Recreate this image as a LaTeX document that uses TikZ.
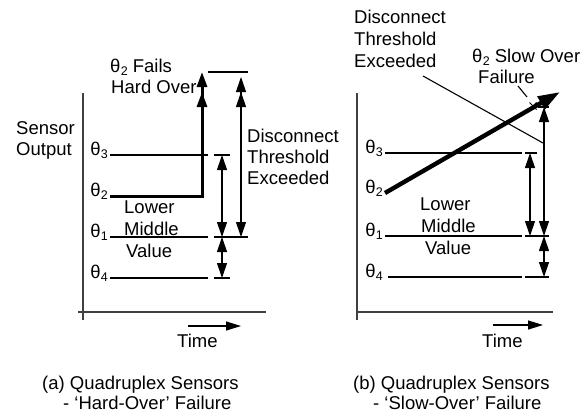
\documentclass[tikz,border=0pt]{standalone}
\usepackage{fontspec}
\setmainfont{Liberation Sans}
\usetikzlibrary{arrows.meta}
% theta with a lowered index
\newcommand\thlab[1]{θ\kern0.3pt\raisebox{-3.5pt}{\fontsize{12.5}{12.5}\selectfont #1}}
\tikzset{
  txt/.style={inner sep=0pt, font=\fontsize{18.5}{22}\selectfont},
  lvl/.style={line width=2.8pt, line cap=butt},
  axisln/.style={line width=1.3pt, draw=black!75},
  fine/.style={line width=1.1pt},
  headtip/.tip={Triangle[length=15pt,width=10pt]},
  dimarrow/.style={fine, headtip-headtip},
  timearrow/.style={line width=1.2pt, -{Triangle[length=15pt,width=9pt]}},
}
\begin{document}
\begin{tikzpicture}[x=1pt,y=-1pt]
\useasboundingbox (0,0) rectangle (585,415);

% ===================== (a) hard-over failure =====================
% axes
\coordinate (ay0) at (83,93);  \coordinate (ay1) at (83,320);
\coordinate (ax0) at (78,312); \coordinate (ax1) at (266,312);
\draw[axisln] (ay0) -- (ay1);
\draw[axisln] (ax0) -- (ax1);

% sensor levels
\coordinate (a3s) at (110,155); \coordinate (a3e) at (208,155);
\coordinate (a1s) at (110,237); \coordinate (a1e) at (208,237);
\coordinate (a4s) at (110,278); \coordinate (a4e) at (208,278);
\coordinate (a2s) at (110,196); \coordinate (a2c) at (202,196);
\coordinate (a2t) at (202,72);
\draw[lvl] (a3s) -- (a3e);
\draw[lvl] (a1s) -- (a1e);
\draw[lvl] (a4s) -- (a4e);
\draw[line width=3pt, line join=miter,
  -{Triangle[length=15pt,width=10pt,sep=5pt]Triangle[length=15pt,width=10pt]}]
  (a2s) -- (a2c) -- (a2t);

% extension ticks
\coordinate (at3a) at (214,155); \coordinate (at3b) at (230,155);
\coordinate (at1a) at (214,237); \coordinate (at1b) at (248,237);
\coordinate (at4a) at (214,278); \coordinate (at4b) at (230,278);
\coordinate (atTa) at (208,72);  \coordinate (atTb) at (248,72);
\draw[fine] (at3a) -- (at3b);
\draw[fine] (at1a) -- (at1b);
\draw[fine] (at4a) -- (at4b);
\draw[fine] (atTa) -- (atTb);

% dimension arrows
\coordinate (ad3) at (222,155); \coordinate (ad1) at (222,237); \coordinate (ad4) at (222,278);
\coordinate (aDT) at (241,72);  \coordinate (aDB) at (241,237);
\draw[dimarrow] (ad3) -- (ad1);
\draw[dimarrow] (ad1) -- (ad4);
\draw[fine, {Triangle[length=15pt,width=10pt,sep=5pt]Triangle[length=15pt,width=10pt]}-headtip]
  (aDT) -- (aDB);

% level labels
\node[txt, anchor=base east] (aL3) at (108,155) {\thlab{3}};
\node[txt, anchor=base east] (aL2) at (108,196) {\thlab{2}};
\node[txt, anchor=base east] (aL1) at (108,237) {\thlab{1}};
\node[txt, anchor=base east] (aL4) at (108,278) {\thlab{4}};

% annotations
\node[txt, anchor=base west] (aF1) at (110,72) {\thlab{2} Fails};
\node[txt, anchor=base west] (aF2) at (111,93) {Hard Over};
\node[txt, anchor=base west] (aS1) at (16,134) {Sensor};
\node[txt, anchor=base west] (aS2) at (16,155) {Output};
\node[txt, anchor=base west] (aD1) at (247,142) {Disconnect};
\node[txt, anchor=base west] (aD2) at (247,163) {Threshold};
\node[txt, anchor=base west] (aD3) at (247,184) {Exceeded};
\node[txt, anchor=base west] (aM1) at (124,213) {Lower};
\node[txt, anchor=base west] (aM2) at (124,235) {Middle};
\node[txt, anchor=base west] (aM3) at (126,257) {Value};

% time axis label
\coordinate (aTa) at (188,326); \coordinate (aTb) at (241,326);
\draw[timearrow] (aTa) -- (aTb);
\node[txt, anchor=base west] (aTime) at (177,347) {Time};

% caption
\node[txt, anchor=base west] (aC1) at (42,389) {(a) Quadruplex Sensors};
\node[txt, anchor=base west] (aC2) at (63,409) {- ‘Hard-Over’ Failure};

% ===================== (b) slow-over failure =====================
\coordinate (by0) at (357,93);  \coordinate (by1) at (357,320);
\coordinate (bx0) at (357,312); \coordinate (bx1) at (553,312);
\draw[axisln] (by0) -- (by1);
\draw[axisln] (bx0) -- (bx1);

\coordinate (b3s) at (385,153); \coordinate (b3e) at (522,153);
\coordinate (b1s) at (385,236); \coordinate (b1e) at (522,236);
\coordinate (b4s) at (388,277); \coordinate (b4e) at (522,277);
\draw[lvl] (b3s) -- (b3e);
\draw[lvl] (b1s) -- (b1e);
\draw[lvl] (b4s) -- (b4e);

% ticks
\coordinate (bt3a) at (525,153); \coordinate (bt3b) at (537,153);
\coordinate (bt1a) at (525,236); \coordinate (bt1b) at (549,236);
\coordinate (bt4a) at (525,277); \coordinate (bt4b) at (549,277);
\coordinate (btTa) at (538,107); \coordinate (btTb) at (549,107);
\draw[fine] (bt3a) -- (bt3b);
\draw[fine] (bt1a) -- (bt1b);
\draw[fine] (bt4a) -- (bt4b);
\draw[fine] (btTa) -- (btTb);

% dimension arrows
\coordinate (bd3) at (530,153); \coordinate (bd1) at (530,236);
\coordinate (bDT) at (544,107); \coordinate (bDM) at (544,236); \coordinate (bDB) at (544,277);
\draw[dimarrow] (bd3) -- (bd1);
\draw[dimarrow] (bDT) -- (bDM);
\draw[dimarrow] (bDM) -- (bDB);

% leader from the threshold label
\coordinate (bLa) at (423,76); \coordinate (bLb) at (543,143);
\draw[fine] (bLa) -- (bLb);

% slowly drifting sensor
\coordinate (b2s) at (385,193); \coordinate (b2t) at (560,92);
\draw[line width=4.4pt, -{Triangle[length=22pt,width=14pt]}] (b2s) -- (b2t);

% crossing point mark and its leader
\coordinate (bX) at (533,106);
\draw[line width=1pt] ([shift={(-3.5,-3.5)}]bX) -- ([shift={(3.5,3.5)}]bX);
\draw[line width=1pt] ([shift={(-3.5,3.5)}]bX) -- ([shift={(3.5,-3.5)}]bX);
\coordinate (bFa) at (518,86); \coordinate (bFb) at (527,97);
\draw[fine] (bFa) -- (bFb);

% level labels
\node[txt, anchor=base east] (bL3) at (383,153) {\thlab{3}};
\node[txt, anchor=base east] (bL2) at (383,193) {\thlab{2}};
\node[txt, anchor=base east] (bL1) at (383,236) {\thlab{1}};
\node[txt, anchor=base east] (bL4) at (383,277) {\thlab{4}};

% annotations
\node[txt, anchor=base west] (bD1) at (354,23) {Disconnect};
\node[txt, anchor=base west] (bD2) at (354,45) {Threshold};
\node[txt, anchor=base west] (bD3) at (354,67) {Exceeded};
\node[txt, anchor=base west] (bS1) at (472,62) {\thlab{2} Slow Over};
\node[txt, anchor=base west] (bS2) at (478,83) {Failure};
\node[txt, anchor=base west] (bM1) at (420,210) {Lower};
\node[txt, anchor=base west] (bM2) at (421,232) {Middle};
\node[txt, anchor=base west] (bM3) at (425,254) {Value};

% time axis label
\coordinate (bTa) at (493,325); \coordinate (bTb) at (543,325);
\draw[timearrow] (bTa) -- (bTb);
\node[txt, anchor=base west] (bTime) at (482,347) {Time};

% caption
\node[txt, anchor=base west] (bC1) at (353,389) {(b) Quadruplex Sensors};
\node[txt, anchor=base west] (bC2) at (373,409) {- ‘Slow-Over’ Failure};
\end{tikzpicture}
\end{document}
